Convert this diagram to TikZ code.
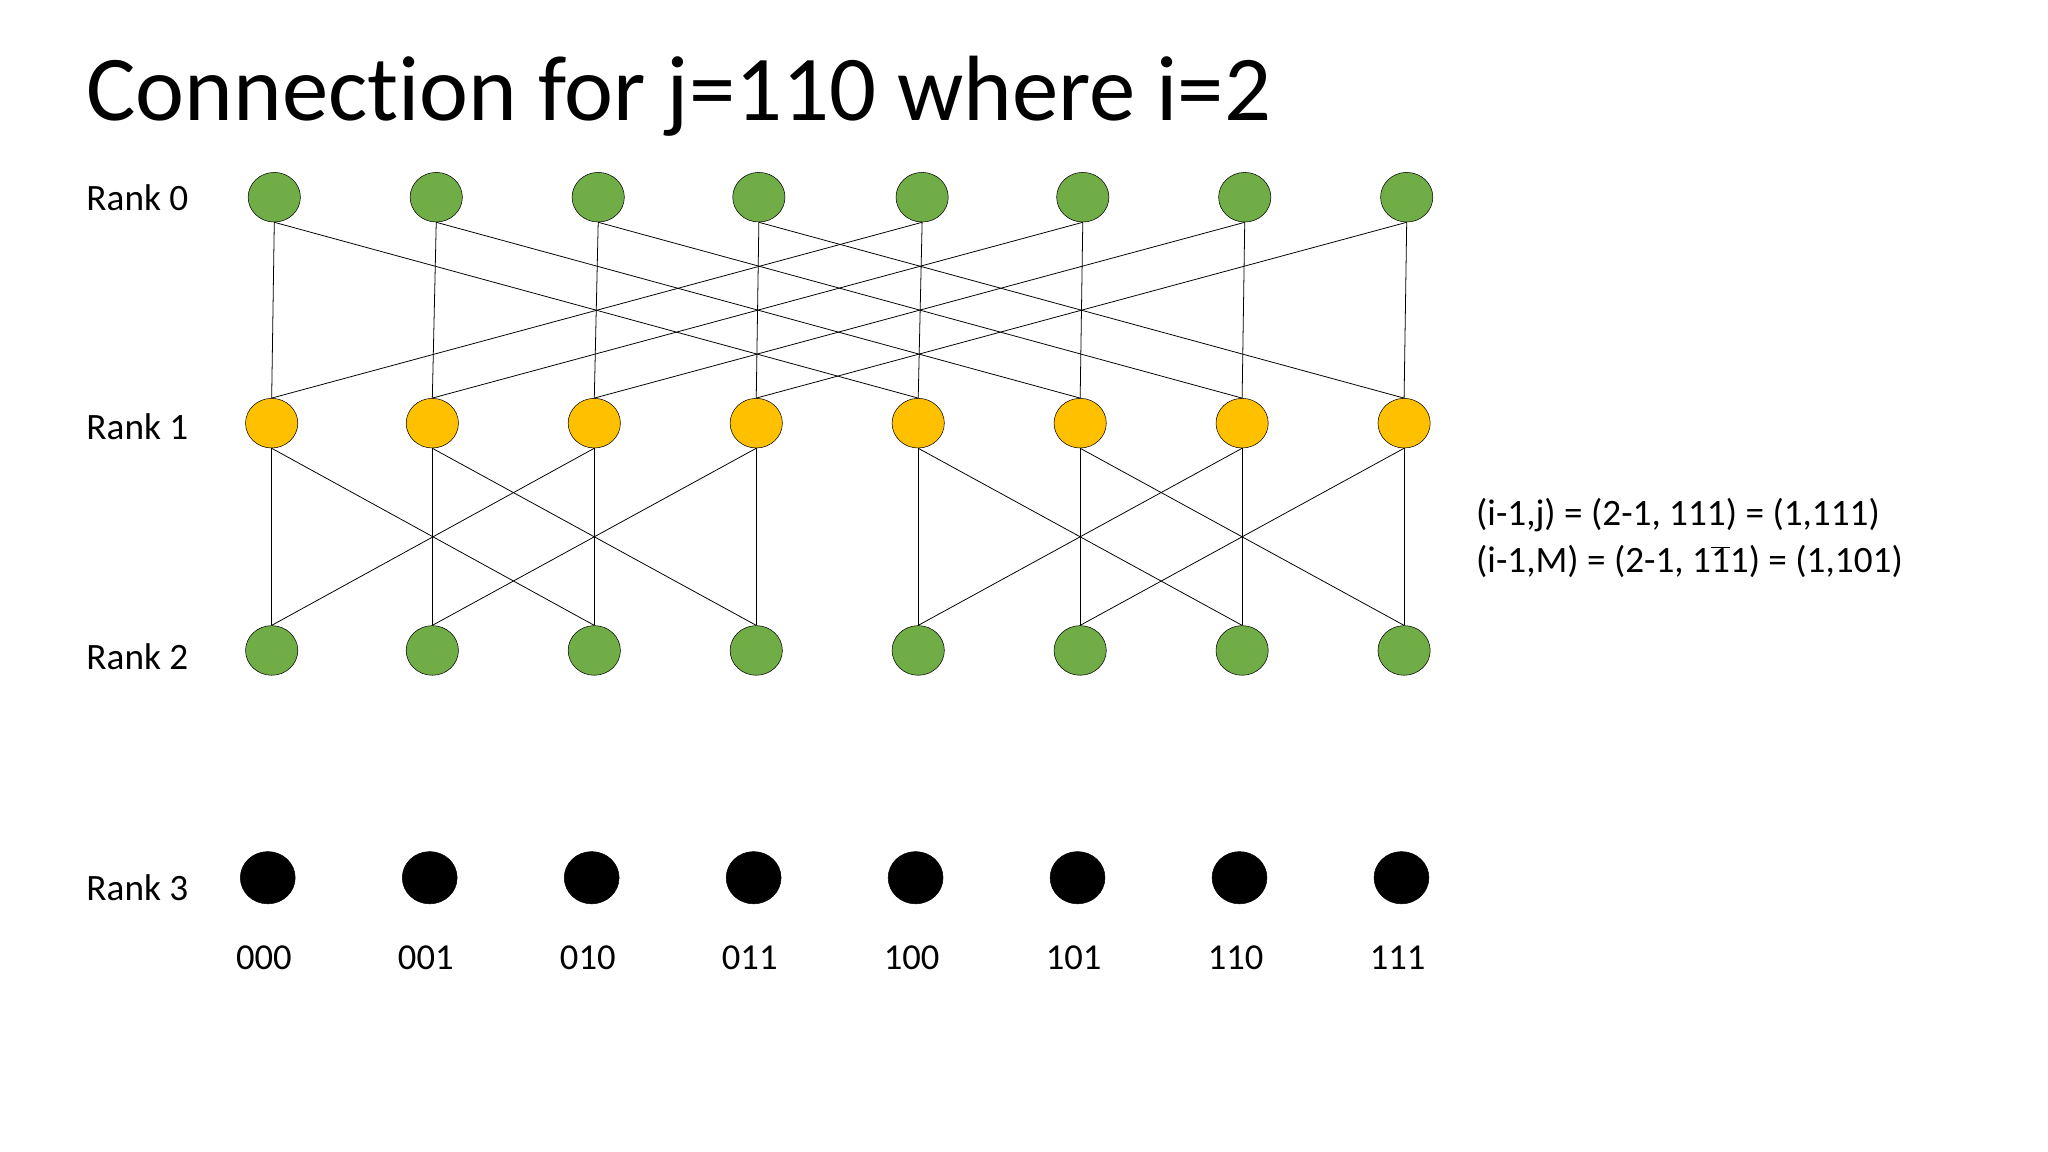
\documentclass[tikz,border=0pt]{standalone}
\usepackage{fontspec}
\setmainfont{Carlito}[Ligatures=NoCommon]
\usetikzlibrary{shapes.geometric}
\begin{document}
\begin{tikzpicture}[x=1pt,y=-1pt,
  gr/.style={ellipse,draw=black,fill={rgb,255:red,112;green,173;blue,71},minimum width=40pt,minimum height=38pt,inner sep=0pt},
  yl/.style={ellipse,draw=black,fill={rgb,255:red,255;green,192;blue,0},minimum width=40pt,minimum height=38pt,inner sep=0pt},
  bk/.style={ellipse,draw=black,fill=black,minimum width=42pt,minimum height=40pt,inner sep=0pt},
  lab/.style={font=\fontsize{28.5}{33}\selectfont,anchor=west,inner sep=0pt},
  bits/.style={font=\fontsize{28}{33}\selectfont},
  ln/.style={draw=black,line width=0.6pt}]
\useasboundingbox (0,0) rectangle (1568,882);
\node[anchor=base west,inner sep=0pt,font=\fontsize{71}{78}\selectfont] (title) at (66,92) {Connection for j=110 where i=2};
\node[lab] (r0) at (66,151) {Rank 0};
\node[lab] (r1) at (66,327) {Rank 1};
\node[lab] (r2) at (66,503) {Rank 2};
\node[lab] (r3) at (66,680) {Rank 3};
\foreach \i/\xa/\xb/\xc/\b in {0/210/208/205/000,1/334/331/329/001,2/458/455/453/010,3/581/579/577/011,4/706/703/701/100,5/829/827/825/101,6/953/951/949/110,7/1077/1075/1073/111}{
  \node[gr] (a\i) at (\xa,151) {};
  \node[yl] (b\i) at (\xb,324) {};
  \node[gr] (c\i) at (\xb,498) {};
  \node[bk] (d\i) at (\xc,672) {};
  \node[bits] (t\i) at (\xc-3,733) {\b};
}
\foreach \i/\j in {0/4,1/5,2/6,3/7,4/0,5/1,6/2,7/3}{
  \draw[ln] (a\i.south) -- (b\i.north);
  \draw[ln] (a\i.south) -- (b\j.north);
}
\foreach \i/\j in {0/2,1/3,2/0,3/1,4/6,5/7,6/4,7/5}{
  \draw[ln] (b\i.south) -- (c\i.north);
  \draw[ln] (b\i.south) -- (c\j.north);
}
\node[anchor=west,inner sep=0pt,font=\fontsize{28.5}{36}\selectfont,align=left] (f) at (1130,412)
 {(i-1,j) = (2-1, 111) = (1,111)\\(i-1,M) = (2-1, 1$\overline{\mbox{1}}$1) = (1,101)};
\end{tikzpicture}
\end{document}
